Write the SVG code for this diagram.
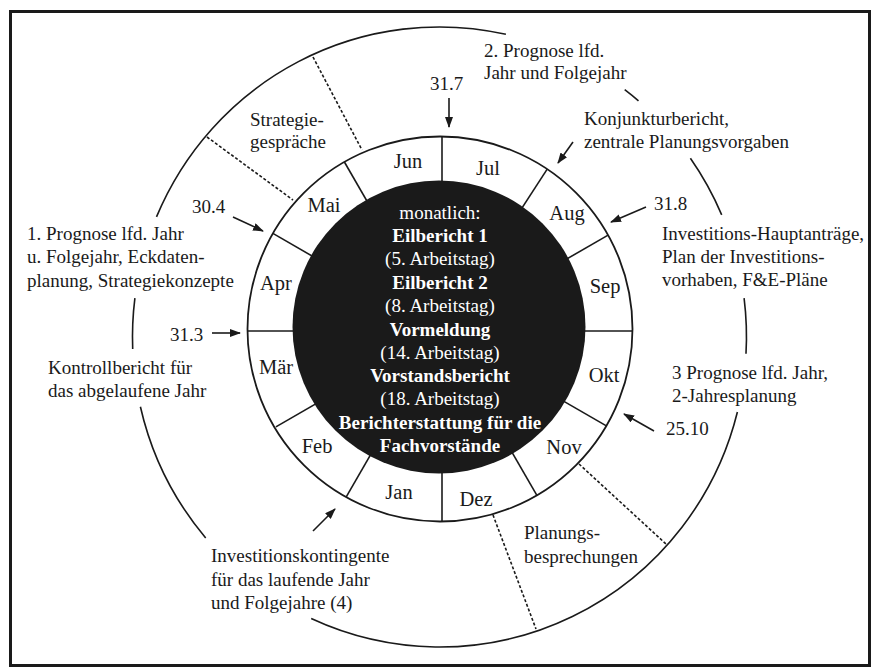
<svg xmlns="http://www.w3.org/2000/svg" width="872" height="668" viewBox="0 0 872 668">
  <style>
    .lbl { font-family: "Liberation Serif", "Times New Roman", serif; font-size: 19px; fill: #1a1a1a; }
    .mon { font-family: "Liberation Serif", "Times New Roman", serif; font-size: 20.5px; fill: #1a1a1a; text-anchor: middle; }
    .ctr { font-family: "Liberation Serif", "Times New Roman", serif; font-size: 19px; fill: #ffffff; text-anchor: middle; }
    .ctr-b { font-weight: bold; }
    .ln { fill: none; stroke: #1a1a1a; stroke-width: 1.6; }
    .dash { fill: none; stroke: #1a1a1a; stroke-width: 1.6; stroke-dasharray: 3 2; }
    .arr { fill: none; stroke: #1a1a1a; stroke-width: 1.6; marker-end: url(#head); }
  </style>
  <defs>
    <marker id="head" markerUnits="userSpaceOnUse" markerWidth="11" markerHeight="8" viewBox="0 0 11 8" refX="10" refY="4" orient="auto">
      <path d="M0,0 L11,4 L0,8 z" fill="#1a1a1a"/>
    </marker>
  </defs>

  <rect x="0" y="0" width="872" height="668" fill="#ffffff"/>
  <!-- frame -->
  <rect id="frame" x="10.5" y="11.5" width="859" height="654" fill="none" stroke="#1a1a1a" stroke-width="3"/>

  <!-- outer planning circle, broken where the labels sit -->
  <g id="outer-circle" class="ln">
    <path d="M156.5,216.9 A307,310 0 0 1 505.9,34.3"/>
    <path d="M624.7,89.7 A307,310 0 0 1 638.5,100.9"/>
    <path d="M690.4,158.3 A307,310 0 0 1 721.7,214.9"/>
    <path d="M744.1,298.1 A307,310 0 0 1 746,353.8"/>
    <path d="M737.4,412 A307,310 0 0 1 311.2,618.6"/>
    <path d="M205.7,537.9 A307,310 0 0 1 140.4,406.7"/>
    <path d="M132.7,349 A307,310 0 0 1 134.9,298.1"/>
  </g>

  <!-- phase boundaries -->
  <g id="phase-lines">
    <line class="dash" x1="207" y1="137" x2="293" y2="200"/>
    <line class="dash" x1="313" y1="57" x2="362" y2="150"/>
    <line class="dash" x1="579" y1="464" x2="666" y2="544"/>
    <line class="dash" x1="493" y1="515" x2="536" y2="629"/>
  </g>

  <!-- month ring -->
  <g id="month-ring">
    <circle cx="440" cy="329" r="192.5" fill="#ffffff" stroke="#1a1a1a" stroke-width="1.8"/>
    <g class="ln">
      <line x1="442" y1="331" x2="632.5" y2="331"/>
      <line x1="442" y1="331" x2="606.4" y2="425.9"/>
      <line x1="442" y1="331" x2="536.9" y2="495.4"/>
      <line x1="442" y1="331" x2="442" y2="521.5"/>
      <line x1="442" y1="331" x2="346.1" y2="497.1"/>
      <line x1="442" y1="331" x2="275.9" y2="426.9"/>
      <line x1="442" y1="331" x2="247.5" y2="331"/>
      <line x1="442" y1="331" x2="272.9" y2="233.4"/>
      <line x1="442" y1="331" x2="344.4" y2="162"/>
      <line x1="442" y1="331" x2="442" y2="136.5"/>
      <line x1="442" y1="331" x2="547.2" y2="169.1"/>
      <line x1="442" y1="331" x2="608.1" y2="235.1"/>
    </g>
    <text class="mon" x="408" y="168">Jun</text>
    <text class="mon" x="488" y="175">Jul</text>
    <text class="mon" x="324" y="212">Mai</text>
    <text class="mon" x="567" y="220">Aug</text>
    <text class="mon" x="276" y="290">Apr</text>
    <text class="mon" x="605" y="293">Sep</text>
    <text class="mon" x="276" y="374">Mär</text>
    <text class="mon" x="604" y="382">Okt</text>
    <text class="mon" x="317" y="453">Feb</text>
    <text class="mon" x="564" y="454">Nov</text>
    <text class="mon" x="399" y="499">Jan</text>
    <text class="mon" x="476" y="506">Dez</text>
  </g>

  <!-- monthly reporting core -->
  <g id="core">
    <circle cx="439" cy="327" r="146.5" fill="#1a1a1a"/>
    <text class="ctr" x="440" y="219">monatlich:</text>
    <text class="ctr ctr-b" x="440" y="242">Eilbericht 1</text>
    <text class="ctr" x="440" y="265">(5. Arbeitstag)</text>
    <text class="ctr ctr-b" x="440" y="289">Eilbericht 2</text>
    <text class="ctr" x="440" y="312">(8. Arbeitstag)</text>
    <text class="ctr ctr-b" x="440" y="336">Vormeldung</text>
    <text class="ctr" x="440" y="359">(14. Arbeitstag)</text>
    <text class="ctr ctr-b" x="440" y="382">Vorstandsbericht</text>
    <text class="ctr" x="440" y="405">(18. Arbeitstag)</text>
    <text class="ctr ctr-b" x="440" y="429">Berichterstattung für die</text>
    <text class="ctr ctr-b" x="440" y="452">Fachvorstände</text>
  </g>

  <!-- date pointers -->
  <g id="connectors">
    <line class="arr" x1="449" y1="98" x2="449" y2="127"/>
    <line class="arr" x1="233" y1="217" x2="263" y2="231"/>
    <line class="arr" x1="212" y1="333" x2="240" y2="333"/>
    <line class="arr" x1="646" y1="207" x2="611" y2="222"/>
    <line class="arr" x1="654" y1="431" x2="624" y2="414"/>
    <line class="arr" x1="573" y1="142" x2="558" y2="163"/>
    <line class="arr" x1="313" y1="531" x2="335" y2="509"/>
  </g>

  <!-- dates -->
  <g id="dates" class="lbl">
    <text x="430" y="90">31.7</text>
    <text x="192" y="213">30.4</text>
    <text x="170" y="341">31.3</text>
    <text x="654" y="210">31.8</text>
    <text x="666" y="435">25.10</text>
  </g>

  <g id="strategie" class="lbl">
    <text x="250" y="126">Strategie-</text>
    <text x="250" y="148">gespräche</text>
  </g>
  <g id="prognose-2" class="lbl">
    <text x="484" y="57">2. Prognose lfd.</text>
    <text x="484" y="79">Jahr und Folgejahr</text>
  </g>
  <g id="konjunktur" class="lbl">
    <text x="584" y="125">Konjunkturbericht,</text>
    <text x="584" y="148">zentrale Planungsvorgaben</text>
  </g>
  <g id="investitionen" class="lbl">
    <text x="662" y="240">Investitions-Hauptanträge,</text>
    <text x="662" y="263">Plan der Investitions-</text>
    <text x="662" y="286">vorhaben, F&amp;E-Pläne</text>
  </g>
  <g id="prognose-3" class="lbl">
    <text x="672" y="379">3 Prognose lfd. Jahr,</text>
    <text x="672" y="402">2-Jahresplanung</text>
  </g>
  <g id="planung" class="lbl">
    <text x="524" y="539">Planungs-</text>
    <text x="524" y="563">besprechungen</text>
  </g>
  <g id="kontingente" class="lbl">
    <text x="211" y="562">Investitionskontingente</text>
    <text x="211" y="586">für das laufende Jahr</text>
    <text x="211" y="609">und Folgejahre (4)</text>
  </g>
  <g id="kontrolle" class="lbl">
    <text x="48" y="374">Kontrollbericht für</text>
    <text x="48" y="397">das abgelaufene Jahr</text>
  </g>
  <g id="prognose-1" class="lbl">
    <text x="27" y="240">1. Prognose lfd. Jahr</text>
    <text x="27" y="263">u. Folgejahr, Eckdaten-</text>
    <text x="27" y="287">planung, Strategiekonzepte</text>
  </g>
</svg>
